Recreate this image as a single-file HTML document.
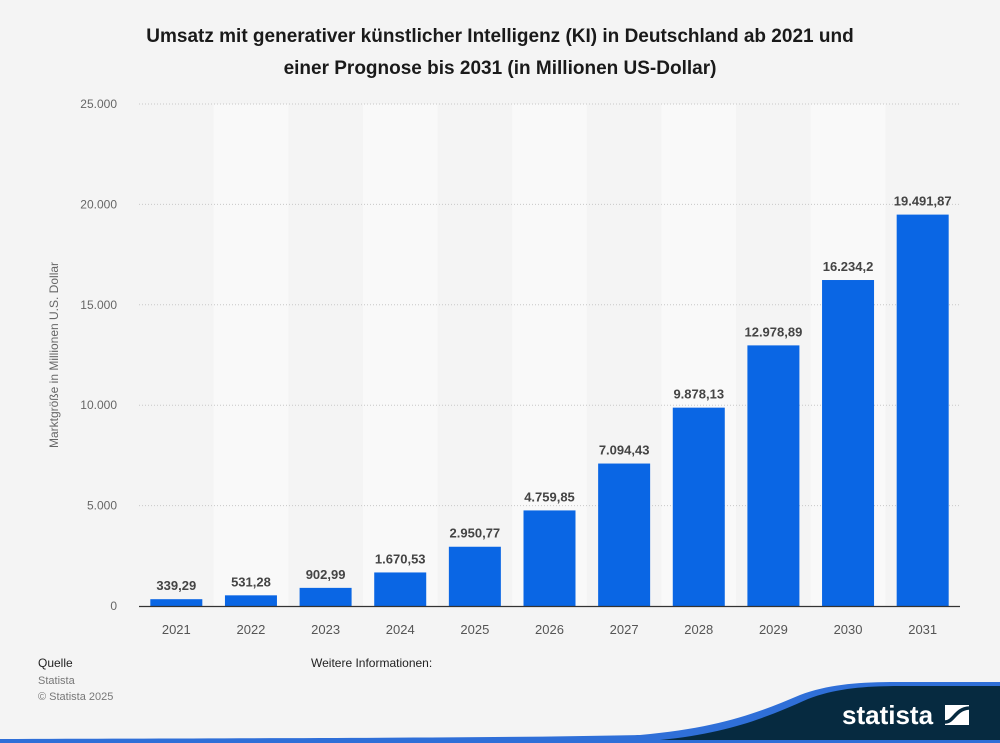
<!DOCTYPE html>
<html><head><meta charset="utf-8"><style>
body{margin:0;background:#f4f4f4;font-family:"Liberation Sans",sans-serif;}
#wrap{position:relative;width:1000px;height:743px;overflow:hidden;background:#f4f4f4}
</style></head><body>
<div id="wrap">
<svg id="chart" width="1000" height="743">
<text x="500" y="42" text-anchor="middle" font-size="19" font-weight="bold" fill="#1a1a1a">Umsatz mit generativer künstlicher Intelligenz (KI) in Deutschland ab 2021 und</text>
<text x="500" y="74" text-anchor="middle" font-size="19" font-weight="bold" fill="#1a1a1a">einer Prognose bis 2031 (in Millionen US-Dollar)</text>
<g id="bands"></g><g id="grid"></g><g id="bars"></g>
<text transform="translate(58,355) rotate(-90)" text-anchor="middle" font-size="12" fill="#666">Marktgröße in Millionen U.S. Dollar</text>
<text x="38" y="667" font-size="12" fill="#222">Quelle</text>
<text x="38" y="684" font-size="11" fill="#777">Statista</text>
<text x="38" y="700" font-size="11" fill="#777">© Statista 2025</text>
<text x="311" y="667" font-size="12" fill="#222">Weitere Informationen:</text>
<path d="M0,743 L0,739 C300,738 500,738 640,735 C720,728 760,712 800,695 C830,684 860,682 900,682 L1000,682 L1000,743 Z" fill="#2f6fd8"/>
<path d="M0,743 C300,742 520,742 660,740 C730,733 770,716 808,699 C836,688 866,686 900,686 L1000,686 L1000,743 Z" fill="#062a40"/>
<rect x="0" y="740" width="1000" height="3" fill="#2f6fd8"/>
<text x="842" y="724" font-size="26" font-weight="bold" fill="#fff">statista</text>
<g>
<rect x="945" y="705" width="24" height="20" fill="#fff"/>
<path d="M945,722 C954,722 955,709 969,708" stroke="#062a40" stroke-width="3.5" fill="none"/>
</g>
</svg>
</div>
<script>
const categories=["2021","2022","2023","2024","2025","2026","2027","2028","2029","2030","2031"];
const values=[339.29,531.28,902.99,1670.53,2950.77,4759.85,7094.43,9878.13,12978.89,16234.2,19491.87];
const labels=["339,29","531,28","902,99","1.670,53","2.950,77","4.759,85","7.094,43","9.878,13","12.978,89","16.234,2","19.491,87"];
const yTicks=[0,5000,10000,15000,20000,25000];
const yTickLabels=["0","5.000","10.000","15.000","20.000","25.000"];
const NS="http://www.w3.org/2000/svg";
const x0=139,x1=960,y0=606,yTop=104,yMax=25000;
const slot=(x1-x0)/categories.length;
const yS=v=>y0-(v/yMax)*(y0-yTop);
const xC=i=>x0+slot*(i+0.5);
function mk(p,t,a){const e=document.createElementNS(NS,t);for(const k in a)e.setAttribute(k,a[k]);document.getElementById(p).appendChild(e);return e;}
categories.forEach((c,i)=>{if(i%2==1){const r=mk('bands','rect',{x:x0+slot*i,y:yTop,width:slot,height:y0-yTop,fill:'#f9f9f9'});

}});
yTicks.forEach((v,i)=>{if(v>0){const l=mk('grid','line',{x1:x0,x2:x1,y1:yS(v),y2:yS(v),stroke:'#c8c8c8','stroke-dasharray':'1,2'});

}
const t=mk('grid','text',{x:117,y:yS(v)+4,'text-anchor':'end','font-size':12,fill:'#666'});t.textContent=yTickLabels[i];

});
categories.forEach((c,i)=>{const w=52;
const b=mk('bars','rect',{x:xC(i)-w/2,y:yS(values[i]),width:w,height:y0-yS(values[i]),fill:'#0a66e4'});


const t=mk('bars','text',{x:xC(i),y:yS(values[i])-9,'text-anchor':'middle','font-size':13,'font-weight':'bold',fill:'#444'});t.textContent=labels[i];


const xl=mk('bars','text',{x:xC(i),y:634,'text-anchor':'middle','font-size':13,fill:'#555'});xl.textContent=c;

});
const ax=mk('bars','line',{x1:x0,x2:x1,y1:y0+0.5,y2:y0+0.5,stroke:'#333','stroke-width':1.2});


</script>
</body></html>
